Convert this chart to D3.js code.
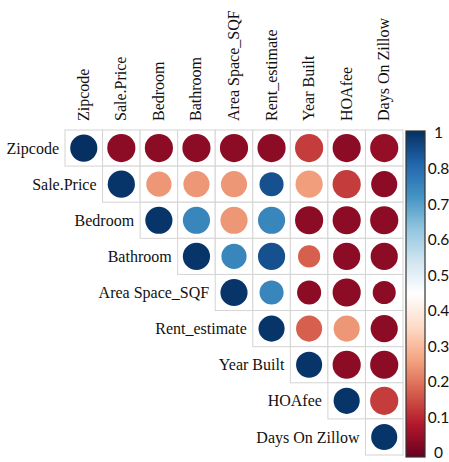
<!DOCTYPE html>
<html>
<head>
<meta charset="utf-8">
<script src="https://cdn.jsdelivr.net/npm/d3@7"></script>
<style>
  html, body { margin: 0; padding: 0; background: #fff; }
  svg { display: block; }
  .serif { font-family: "Liberation Serif", "DejaVu Serif", serif; }
  .sans { font-family: Lato, "Open Sans", sans-serif; }
</style>
</head>
<body>
<svg id="chart" width="449" height="462"></svg>
<script>
// Variables of the housing dataset, in matrix order
const variables = ["Zipcode", "Sale.Price", "Bedroom", "Bathroom", "Area Space_SQF",
                   "Rent_estimate", "Year Built", "HOAfee", "Days On Zillow"];

// Upper-triangle values (colour), each row starts at the diagonal
const valZipcode   = [1.00, 0.05, 0.05, 0.05, 0.05, 0.05, 0.15, 0.05, 0.06];
const valSalePrice = [0.99, 0.28, 0.28, 0.28, 0.94, 0.29, 0.15, 0.05];
const valBedroom   = [0.99, 0.83, 0.28, 0.83, 0.05, 0.05, 0.05];
const valBathroom  = [0.99, 0.83, 0.94, 0.20, 0.05, 0.05];
const valArea      = [0.99, 0.83, 0.05, 0.05, 0.05];
const valRent      = [0.99, 0.20, 0.28, 0.05];
const valYear      = [0.99, 0.05, 0.05];
const valHOA       = [0.99, 0.15];
const valDays      = [0.99];

// Upper-triangle magnitudes (circle area)
const magZipcode   = [0.93, 1.00, 1.00, 1.00, 1.00, 1.00, 1.00, 1.00, 1.00];
const magSalePrice = [0.93, 0.80, 0.86, 0.86, 0.73, 0.93, 1.00, 0.86];
const magBedroom   = [0.93, 0.93, 0.93, 0.93, 1.00, 1.00, 1.00];
const magBathroom  = [0.93, 0.80, 0.93, 0.62, 0.93, 0.93];
const magArea      = [0.93, 0.73, 0.73, 1.00, 0.67];
const magRent      = [0.86, 0.86, 0.86, 0.93];
const magYear      = [0.86, 1.00, 1.00];
const magHOA       = [0.86, 1.00];
const magDays      = [0.86];

// Colour-bar tick labels, top to bottom
const colorTicks = ["1", "0.8", "0.7", "0.6", "0.5", "0.4", "0.3", "0.2", "0.1", "0"];

const valueRows = [valZipcode, valSalePrice, valBedroom, valBathroom, valArea,
                   valRent, valYear, valHOA, valDays];
const magRows = [magZipcode, magSalePrice, magBedroom, magBathroom, magArea,
                 magRent, magYear, magHOA, magDays];

// Flatten into cell records
const cells = [];
valueRows.forEach((row, i) => {
  row.forEach((v, k) => {
    const j = i + k;
    cells.push({ row: variables[i], col: variables[j], value: v, mag: magRows[i][k] });
  });
});

const svg = d3.select("#chart");

const gridLeft = 65, gridRight = 403, gridTop = 130, gridBottom = 455;

const x = d3.scaleBand().domain(variables).range([gridLeft, gridRight]);
const y = d3.scaleBand().domain(variables).range([gridTop, gridBottom]);

// RdBu diverging palette, dark red at 0 through white to dark blue at 1
const rdbu = ["#67001F", "#B2182B", "#D6604D", "#F4A582", "#FDDBC7", "#FFFFFF",
              "#D1E5F0", "#92C5DE", "#4393C3", "#2166AC", "#053061"];
const color = d3.scaleLinear()
  .domain(d3.range(rdbu.length).map(i => i / (rdbu.length - 1)))
  .range(rdbu)
  .interpolate(d3.interpolateRgb);

const rMax = Math.min(x.bandwidth(), y.bandwidth()) * 0.39;
const radius = d3.scaleSqrt().domain([0, 1]).range([0, rMax]);

// Cell borders
svg.append("g")
  .selectAll("rect")
  .data(cells)
  .join("rect")
  .attr("x", d => x(d.col))
  .attr("y", d => y(d.row))
  .attr("width", x.bandwidth())
  .attr("height", y.bandwidth())
  .attr("fill", "#fff")
  .attr("stroke", "#d4d4d4")
  .attr("stroke-width", 1);

// Circles
svg.append("g")
  .selectAll("circle")
  .data(cells)
  .join("circle")
  .attr("cx", d => x(d.col) + x.bandwidth() / 2)
  .attr("cy", d => y(d.row) + y.bandwidth() / 2)
  .attr("r", d => radius(d.mag))
  .attr("fill", d => color(d.value));

// Row labels, right-aligned just left of the diagonal cell
svg.append("g")
  .attr("class", "serif")
  .selectAll("text")
  .data(variables)
  .join("text")
  .attr("x", d => x(d) - 6)
  .attr("y", d => y(d) + y.bandwidth() / 2)
  .attr("dy", "0.35em")
  .attr("text-anchor", "end")
  .attr("font-size", 16)
  .attr("fill", "#111")
  .text(d => d);

// Column labels, rotated vertically above the grid
svg.append("g")
  .attr("class", "serif")
  .selectAll("text")
  .data(variables)
  .join("text")
  .attr("transform", d => `translate(${x(d) + x.bandwidth() / 2 + 5},${gridTop - 9}) rotate(-90)`)
  .attr("text-anchor", "start")
  .attr("font-size", 16)
  .attr("fill", "#111")
  .text(d => d);

// Colour bar
const barX = 406, barW = 19, barTop = 131, barBottom = 457;
const defs = svg.append("defs");
const grad = defs.append("linearGradient")
  .attr("id", "cbar")
  .attr("x1", 0).attr("y1", 1).attr("x2", 0).attr("y2", 0);
grad.selectAll("stop")
  .data(d3.range(0, 1.0001, 0.05))
  .join("stop")
  .attr("offset", d => d)
  .attr("stop-color", d => color(d));

svg.append("rect")
  .attr("x", barX)
  .attr("y", barTop)
  .attr("width", barW)
  .attr("height", barBottom - barTop)
  .attr("fill", "url(#cbar)")
  .attr("stroke", "#333")
  .attr("stroke-width", 1.2);

const tickY = d3.scalePoint().domain(colorTicks).range([barTop + 2, barBottom - 4]);
svg.append("g")
  .attr("class", "sans")
  .selectAll("text")
  .data(colorTicks)
  .join("text")
  .attr("x", 438.5)
  .attr("y", d => tickY(d))
  .attr("dy", "0.35em")
  .attr("text-anchor", "middle")
  .attr("font-size", 15.5)
  .attr("fill", "#111")
  .text(d => d);
</script>
</body>
</html>
